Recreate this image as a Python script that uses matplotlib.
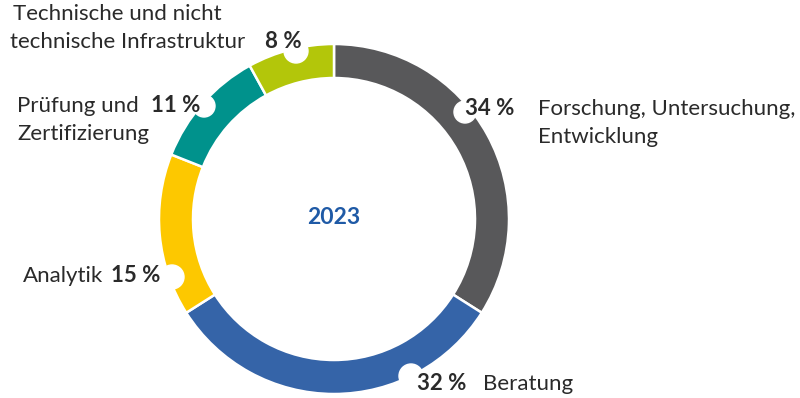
import matplotlib.pyplot as plt
from matplotlib.patches import Circle

plt.rcParams['font.family'] = ['Lato', 'DejaVu Sans']

# data
categories = ["Forschung, Untersuchung,\nEntwicklung", "Beratung", "Analytik",
              "Prüfung und\nZertifizierung",
              "Technische und nicht\ntechnische Infrastruktur"]
shares = [34, 32, 15, 11, 8]
colors = ["#58585a", "#3564a8", "#fdc800", "#00928c", "#b3c60a"]
year = "2023"

W, H = 800, 398
fig = plt.figure(figsize=(W / 100, H / 100), dpi=100)
ax = fig.add_axes([0, 0, 1, 1])

def Y(y):
    # pixel row (from top) -> data y
    return H - y

cx, cy = 334, Y(219)
ax.pie(shares, colors=colors, startangle=90, counterclock=False,
       center=(cx, cy), radius=175,
       wedgeprops=dict(width=34, edgecolor="white", linewidth=1.8))
ax.set_xlim(0, W)
ax.set_ylim(0, H)
ax.set_aspect("equal")
ax.axis("off")

# white notches where the percentages sit
notches = [(465, 112, 11), (411, 376, 12), (172, 277, 12),
           (204, 106, 11), (296, 51, 12)]
for nx, ny, nr in notches:
    ax.add_patch(Circle((nx, Y(ny)), nr, color="white", zorder=3))

txt = "#2a2a2a"
fs = 16
pct = [f"{v} %" for v in shares]

# Forschung
ax.text(465, Y(115), pct[0], fontsize=fs, fontweight="bold", color=txt, zorder=4)
ax.text(538, Y(115), categories[0].split("\n")[0], fontsize=fs, color=txt)
ax.text(538, Y(143), categories[0].split("\n")[1], fontsize=fs, color=txt)
# Beratung
ax.text(417, Y(390), pct[1], fontsize=fs, fontweight="bold", color=txt, zorder=4)
ax.text(483, Y(390), categories[1], fontsize=fs, color=txt)
# Analytik
ax.text(160, Y(282), pct[2], fontsize=fs, fontweight="bold", color=txt,
        ha="right", zorder=4)
ax.text(23, Y(282), categories[2], fontsize=fs, color=txt)
# Pruefung
ax.text(200, Y(112), pct[3], fontsize=fs, fontweight="bold", color=txt,
        ha="right", zorder=4)
ax.text(17, Y(112), categories[3].split("\n")[0], fontsize=fs, color=txt)
ax.text(17, Y(140), categories[3].split("\n")[1], fontsize=fs, color=txt)
# Infrastruktur
ax.text(302, Y(48), pct[4], fontsize=fs, fontweight="bold", color=txt,
        ha="right", zorder=4)
ax.text(13, Y(20), categories[4].split("\n")[0], fontsize=fs, color=txt)
ax.text(10, Y(48), categories[4].split("\n")[1], fontsize=fs, color=txt)

ax.text(cx, Y(218), year, fontsize=16.5, fontweight="bold", color="#1f5aa6",
        ha="center", va="center")

fig.savefig("out.png", dpi=100)
